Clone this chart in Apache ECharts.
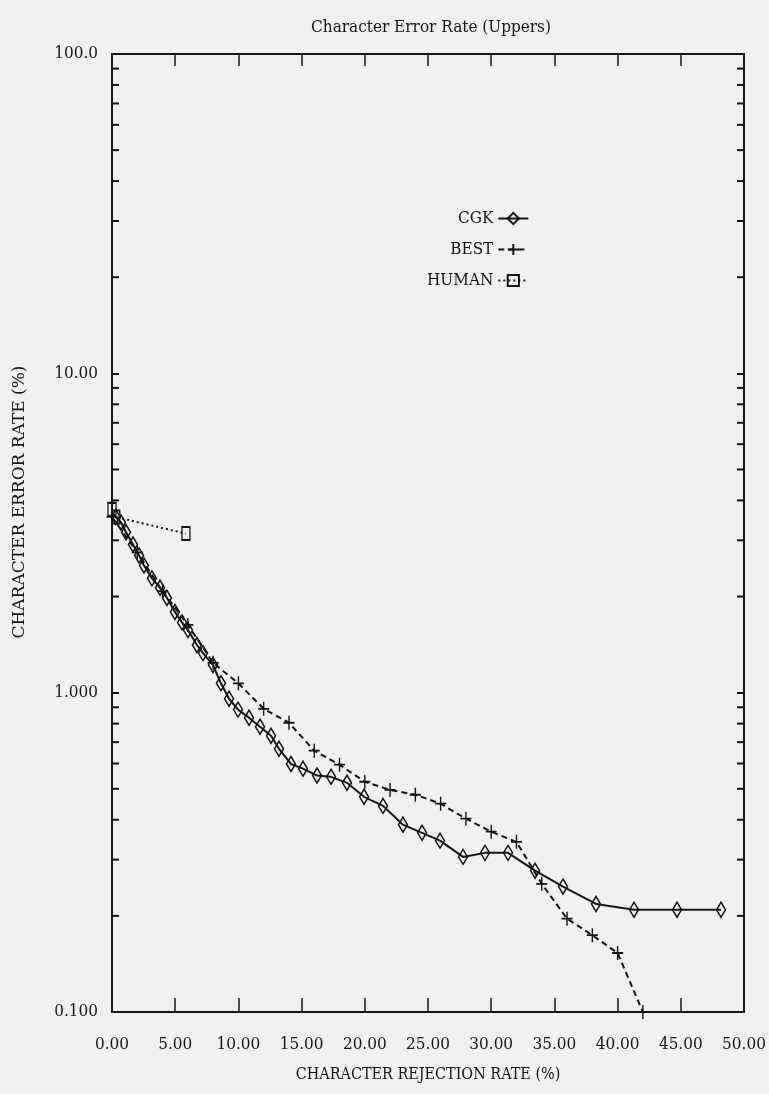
<!DOCTYPE html>
<html>
<head>
<meta charset="utf-8">
<script src="https://cdn.jsdelivr.net/npm/echarts@6/dist/echarts.min.js"></script>
<style>
  html, body { margin: 0; padding: 0; background: #f0f0f0; }
  #chart { width: 769px; height: 1094px; }
</style>
</head>
<body>
<div id="chart"></div>
<script>
// ---- data ----
const chartTitle = 'Character Error Rate (Uppers)';
const xAxisTitle = 'CHARACTER REJECTION RATE (%)';
const yAxisTitle = 'CHARACTER ERROR RATE (%)';
const xTickLabels = ['0.00','5.00','10.00','15.00','20.00','25.00','30.00','35.00','40.00','45.00','50.00'];
const yTickValues = [0.1, 1, 10, 100];
const yTickLabels = ['0.100','1.000','10.00','100.0'];
const seriesNames = ['CGK', 'BEST', 'HUMAN'];

const cgkX = [0.3, 0.71, 1.11, 1.66, 2.14, 2.53, 3.16, 3.80, 4.35, 4.98, 5.54, 6.01, 6.72, 7.20, 7.99, 8.62, 9.26, 9.97, 10.84, 11.71, 12.58, 13.21, 14.16, 15.11, 16.22, 17.33, 18.59, 19.94, 21.44, 23.02, 24.53, 25.95, 27.77, 29.51, 31.33, 33.47, 35.68, 38.29, 41.30, 44.70, 48.18];
const cgkY = [3.55, 3.41, 3.18, 2.91, 2.69, 2.50, 2.28, 2.13, 1.98, 1.79, 1.66, 1.57, 1.41, 1.33, 1.22, 1.07, 0.957, 0.885, 0.835, 0.782, 0.733, 0.667, 0.598, 0.578, 0.550, 0.545, 0.522, 0.472, 0.442, 0.386, 0.364, 0.344, 0.306, 0.315, 0.315, 0.277, 0.247, 0.218, 0.209, 0.209, 0.209];

const bestX = [0, 2, 4, 6, 8, 10, 12, 14, 16, 18, 20, 22, 24, 26, 28, 30, 32, 34, 36, 38, 40, 42];
const bestY = [3.55, 2.75, 2.08, 1.63, 1.24, 1.07, 0.89, 0.805, 0.658, 0.595, 0.526, 0.496, 0.479, 0.449, 0.403, 0.367, 0.341, 0.252, 0.196, 0.174, 0.153, 0.100];

const humanX = [0, 0.3, 5.85];
const humanY = [3.75, 3.55, 3.15];

// ---- build chart ----
const zip = (xs, ys) => xs.map((x, i) => [x, ys[i]]);
const INK = '#151515';
const BG = '#f0f0f0';
const NARROW = '"DejaVu Serif Condensed", "Liberation Serif", serif';
const WIDE_SERIF = '"DejaVu Serif", "Liberation Serif", serif';

const chart = echarts.init(document.getElementById('chart'), null, { renderer: 'canvas' });

const xCommon = {
  type: 'value', min: 0, max: 50, interval: 5,
  axisLine: { show: true, onZero: false, lineStyle: { color: INK, width: 2 } },
  splitLine: { show: false }
};
const yCommon = {
  type: 'log', logBase: 10, min: 0.1, max: 100,
  axisLine: { show: true, onZero: false, lineStyle: { color: INK, width: 2 } },
  splitLine: { show: false }
};

const option = {
  backgroundColor: BG,
  animation: false,
  title: {
    text: chartTitle,
    left: 426, top: 14, textAlign: 'center',
    textStyle: { fontFamily: NARROW, fontSize: 17, fontWeight: 'normal', color: INK }
  },
  legend: {
    orient: 'vertical',
    left: 422, top: 205,
    align: 'right',
    itemGap: 14,
    itemWidth: 30, itemHeight: 14,
    data: seriesNames,
    formatter: name => '{t|' + name + '}',
    textStyle: {
      color: INK,
      rich: { t: { width: 50, align: 'right', fontFamily: NARROW, fontSize: 17, color: INK } }
    }
  },
  grid: { left: 112, right: 25, top: 54, bottom: 82, containLabel: false },
  xAxis: [
    Object.assign({}, xCommon, {
      position: 'bottom',
      name: xAxisTitle, nameLocation: 'middle', nameGap: 55,
      nameTextStyle: { fontFamily: NARROW, fontSize: 16, color: INK },
      axisTick: { show: true, inside: true, length: 14, lineStyle: { color: INK, width: 1.5 } },
      axisLabel: {
        margin: 24, fontFamily: NARROW, fontSize: 17, color: INK,
        formatter: v => xTickLabels[Math.round(v / 5)]
      }
    }),
    Object.assign({}, xCommon, {
      position: 'top',
      axisTick: { show: true, inside: true, length: 12, lineStyle: { color: INK, width: 1.5 } },
      axisLabel: { show: false }
    })
  ],
  yAxis: [
    Object.assign({}, yCommon, {
      position: 'left',
      axisTick: { show: true, inside: true, length: 7, lineStyle: { color: INK, width: 2 } },
      axisLabel: {
        margin: 14, fontFamily: NARROW, fontSize: 17, color: INK,
        formatter: v => {
          const i = yTickValues.findIndex(t => Math.abs(Math.log10(t) - Math.log10(v)) < 1e-6);
          return i >= 0 ? yTickLabels[i] : '';
        }
      }
    }),
    Object.assign({}, yCommon, {
      position: 'right',
      axisTick: { show: true, inside: true, length: 7, lineStyle: { color: INK, width: 2 } },
      axisLabel: { show: false }
    })
  ],
  series: [
    {
      name: seriesNames[1], type: 'line', xAxisIndex: 0, yAxisIndex: 0,
      data: zip(bestX, bestY), z: 3,
      symbol: 'path://M10,0L10,20M0,10L20,10', symbolSize: [11, 14],
      lineStyle: { color: INK, width: 2, type: [6, 4] },
      itemStyle: { color: 'rgba(0,0,0,0)', borderColor: INK, borderWidth: 1.6 }
    },
    {
      name: seriesNames[0], type: 'line', xAxisIndex: 0, yAxisIndex: 0,
      data: zip(cgkX, cgkY), z: 4,
      symbol: 'diamond', symbolSize: [9, 15],
      lineStyle: { color: INK, width: 2, type: 'solid' },
      itemStyle: { color: 'rgba(0,0,0,0)', borderColor: INK, borderWidth: 1.6 }
    },
    {
      name: seriesNames[2], type: 'line', xAxisIndex: 0, yAxisIndex: 0,
      data: zip(humanX, humanY), z: 5,
      symbol: 'rect', symbolSize: [8, 13],
      lineStyle: { color: INK, width: 2, type: [2, 3] },
      itemStyle: { color: 'rgba(0,0,0,0)', borderColor: INK, borderWidth: 1.6 }
    }
  ]
};
chart.setOption(option);

// minor log ticks (2..9 of each decade) on left and right axes, placed via the axis scale
const minorVals = [];
[0.1, 1, 10].forEach(d => { for (let k = 2; k <= 9; k++) minorVals.push(d * k); });
const xl = chart.convertToPixel({ xAxisIndex: 0 }, 0);
const xr = chart.convertToPixel({ xAxisIndex: 0 }, 50);
const graphics = [];
minorVals.forEach(v => {
  const py = chart.convertToPixel({ yAxisIndex: 0 }, v);
  graphics.push({ type: 'line', shape: { x1: xl, y1: py, x2: xl + 7, y2: py }, style: { stroke: INK, lineWidth: 2 }, silent: true });
  graphics.push({ type: 'line', shape: { x1: xr - 7, y1: py, x2: xr, y2: py }, style: { stroke: INK, lineWidth: 2 }, silent: true });
});
// y-axis title, rotated, centred where the reference places it
graphics.push({
  type: 'text', x: 20, y: 502, rotation: Math.PI / 2,
  style: { text: yAxisTitle, fill: INK, font: '17px ' + WIDE_SERIF, align: 'center', verticalAlign: 'middle' },
  silent: true
});
chart.setOption({ graphic: graphics });
</script>
</body>
</html>
